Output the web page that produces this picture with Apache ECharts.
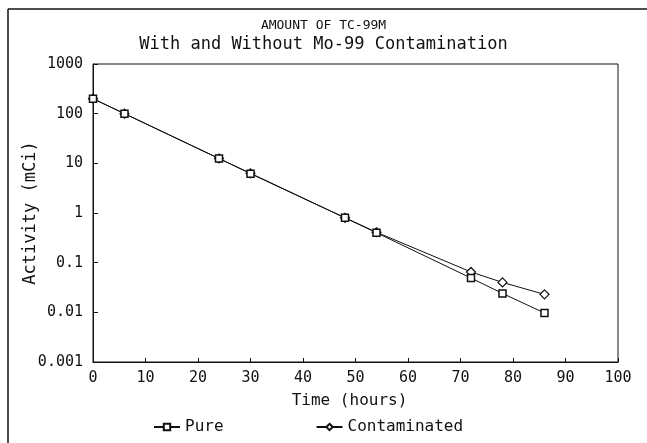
<!DOCTYPE html>
<html>
<head>
<meta charset="utf-8">
<script src="https://cdn.jsdelivr.net/npm/echarts@6/dist/echarts.min.js"></script>
<style>
  html, body { margin: 0; padding: 0; background: #fff; }
  #chart { width: 647px; height: 443px; }
</style>
</head>
<body>
<div id="chart"></div>
<script>
// hours after elution
const hours = [0, 6, 24, 30, 48, 54, 72, 78, 86]
// activity in mCi
const pure = [200, 100, 12.5, 6.2, 0.8, 0.4, 0.049, 0.024, 0.0097]
const contaminated = [200, 100, 12.5, 6.3, 0.8, 0.41, 0.065, 0.04, 0.023]
const yTickLabels = ['0.001', '0.01', '0.1', '1', '10', '100', '1000']

const mono = 'DejaVu Sans Mono'
const ink = '#111'

const chart = echarts.init(document.getElementById('chart'), null, { renderer: 'canvas' })

chart.setOption({
  backgroundColor: '#fff',
  animation: false,
  title: {
    text: 'AMOUNT OF TC-99M',
    subtext: 'With and Without Mo-99 Contamination',
    left: 'center',
    top: 14,
    itemGap: 4,
    textStyle: { fontFamily: mono, fontSize: 13, fontWeight: 'normal', color: ink },
    subtextStyle: { fontFamily: mono, fontSize: 17, color: ink }
  },
  legend: {
    left: 148,
    top: 414,
    itemWidth: 26,
    itemHeight: 8,
    itemGap: 92,
    textStyle: { fontFamily: mono, fontSize: 16, color: ink },
    data: ['Pure', 'Contaminated']
  },
  grid: {
    left: 93,
    right: 29,
    top: 64,
    bottom: 81,
    show: true,
    borderColor: ink,
    borderWidth: 1
  },
  xAxis: {
    type: 'value',
    min: 0,
    max: 100,
    interval: 10,
    name: 'Time (hours)',
    nameLocation: 'middle',
    nameGap: 31,
    nameTextStyle: { fontFamily: mono, fontSize: 16, color: ink, padding: [0, 12, 0, 0] },
    axisLine: { lineStyle: { color: ink } },
    axisTick: { inside: true, length: 4, lineStyle: { color: ink } },
    axisLabel: { fontFamily: mono, fontSize: 15, color: ink, margin: 9 },
    splitLine: { show: false }
  },
  yAxis: {
    type: 'log',
    logBase: 10,
    min: 0.001,
    max: 1000,
    name: 'Activity (mCi)',
    nameLocation: 'middle',
    nameGap: 54,
    nameMoveOverlap: false,
    nameTextStyle: { fontFamily: mono, fontSize: 17, color: ink },
    axisLine: { lineStyle: { color: ink } },
    axisTick: { inside: true, length: 5, lineStyle: { color: ink } },
    axisLabel: {
      fontFamily: mono,
      fontSize: 15,
      color: ink,
      margin: 10,
      formatter: function (v) {
        const i = Math.round(Math.log10(v)) + 3
        return yTickLabels[i]
      }
    },
    splitLine: { show: false }
  },
  graphic: [
    { type: 'line', shape: { x1: 8, y1: 9, x2: 647, y2: 9 }, style: { stroke: ink, lineWidth: 1.5 } },
    { type: 'line', shape: { x1: 8, y1: 9, x2: 8, y2: 443 }, style: { stroke: ink, lineWidth: 1.5 } }
  ],
  series: [
    {
      name: 'Pure',
      type: 'line',
      data: hours.map((h, i) => [h, pure[i]]),
      symbol: 'rect',
      symbolSize: 7,
      showAllSymbol: true,
      lineStyle: { color: ink, width: 1 },
      itemStyle: { color: '#fff', borderColor: ink, borderWidth: 1.5 },
      z: 3
    },
    {
      name: 'Contaminated',
      type: 'line',
      data: hours.map((h, i) => [h, contaminated[i]]),
      symbol: 'diamond',
      symbolSize: 9,
      showAllSymbol: true,
      lineStyle: { color: ink, width: 1 },
      itemStyle: { color: '#fff', borderColor: ink, borderWidth: 1.2 },
      z: 2
    }
  ]
})
</script>
</body>
</html>
